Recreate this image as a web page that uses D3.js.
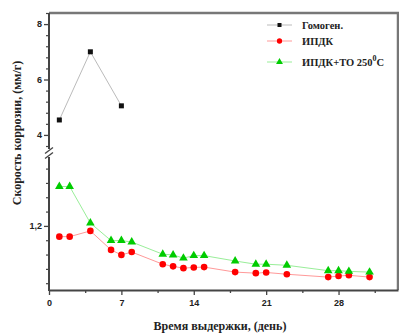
<!DOCTYPE html>
<html>
<head>
<meta charset="utf-8">
<script src="https://cdn.jsdelivr.net/npm/d3@7"></script>
<style>
  body { margin: 0; background: #fff; }
  .tick-label { font-family: "Liberation Sans", Arial, sans-serif; font-weight: bold; font-size: 9px; fill: #222; }
  .title { font-family: "Liberation Serif", "Times New Roman", serif; font-weight: bold; font-size: 12px; fill: #222; }
  .legend { font-family: "Liberation Serif", "Times New Roman", serif; font-weight: bold; font-size: 10.5px; fill: #222; }
</style>
</head>
<body>
<svg width="399" height="333"></svg>
<script>
// data
var homogenDays = [1, 4, 7],
    homogenRate = [4.54, 7.0, 5.05];

var days = [1, 2, 4, 6, 7, 8, 11, 12, 13, 14, 15, 18, 20, 21, 23, 27, 28, 29, 31];
var ipdkRate = [1.170, 1.170, 1.186, 1.133, 1.119, 1.127, 1.093, 1.087, 1.082, 1.084, 1.085,
                1.071, 1.068, 1.070, 1.065, 1.057, 1.060, 1.062, 1.057];
var ipdkToRate = [1.310, 1.310, 1.208, 1.159, 1.159, 1.155, 1.121, 1.119, 1.110, 1.117, 1.117,
                  1.102, 1.093, 1.093, 1.090, 1.075, 1.075, 1.073, 1.071];

var xTicks = [0, 7, 14, 21, 28],
    yTicksTop = [4, 6, 8],
    yTicksBottom = [1.2];

var svg = d3.select("svg"),
    plot = {left: 49, right: 398, top: 13, bottom: 290},
    breakY = 153;

var x = d3.scaleLinear().domain([0, 33.75]).range([plot.left, plot.right]);
var yTop = d3.scaleLinear().domain([3.42, 8.4]).range([151, plot.top]);
var yBot = d3.scaleLinear().domain([1.021, 1.398]).range([plot.bottom, 155]);

// frame (top and right)
svg.append("path")
    .attr("d", "M" + plot.left + "," + plot.top + "H" + plot.right + "V" + plot.bottom)
    .attr("fill", "none")
    .attr("stroke", "#777")
    .attr("stroke-width", 2.5);

// x axis
var xAxis = d3.axisBottom(x).tickValues(xTicks).tickSize(5).tickSizeOuter(0).tickFormat(d3.format("d"));
var gx = svg.append("g").attr("transform", "translate(0," + plot.bottom + ")").call(xAxis);
gx.select(".domain").attr("stroke", "#444").attr("stroke-width", 2);
gx.selectAll(".tick line").attr("stroke", "#444").attr("stroke-width", 1.3);
gx.selectAll(".tick text").attr("class", "tick-label").attr("dy", "0.9em");
svg.append("g").attr("transform", "translate(0," + plot.bottom + ")")
    .call(d3.axisBottom(x).tickValues([3.5, 10.5, 17.5, 24.5, 31.5]).tickSize(3).tickFormat(""))
    .call(function(g) { g.select(".domain").remove(); g.selectAll("line").attr("stroke", "#444").attr("stroke-width", 1.3); });

// y axis ticks
var gyt = svg.append("g").attr("transform", "translate(" + plot.left + ",0)")
    .call(d3.axisLeft(yTop).tickValues(yTicksTop).tickSize(5).tickSizeOuter(0).tickFormat(d3.format("d")));
var gyb = svg.append("g").attr("transform", "translate(" + plot.left + ",0)")
    .call(d3.axisLeft(yBot).tickValues(yTicksBottom).tickSize(5).tickSizeOuter(0).tickFormat(function(d) { return String(d).replace(".", ","); }));
[gyt, gyb].forEach(function(g) {
  g.select(".domain").remove();
  g.selectAll(".tick line").attr("stroke", "#444").attr("stroke-width", 1.3);
  g.selectAll(".tick text").attr("class", "tick-label").attr("x", -7);
});
var minorTop = d3.range(3.6, 8.41, 0.4).filter(function(v) { return Math.abs(v - Math.round(v / 2) * 2) > 0.01; });
var minorBot = d3.range(1.04, 1.37, 0.04).filter(function(v) { return Math.abs(v - 1.2) > 0.001; });
svg.append("g").attr("transform", "translate(" + plot.left + ",0)")
    .call(d3.axisLeft(yTop).tickValues(minorTop).tickSize(3).tickFormat(""))
    .call(function(g) { g.select(".domain").remove(); g.selectAll("line").attr("stroke", "#444").attr("stroke-width", 1.2); });
svg.append("g").attr("transform", "translate(" + plot.left + ",0)")
    .call(d3.axisLeft(yBot).tickValues(minorBot).tickSize(3).tickFormat(""))
    .call(function(g) { g.select(".domain").remove(); g.selectAll("line").attr("stroke", "#444").attr("stroke-width", 1.2); });

// y axis line with break
svg.append("line").attr("x1", plot.left).attr("x2", plot.left).attr("y1", plot.top).attr("y2", breakY - 4)
    .attr("stroke", "#444").attr("stroke-width", 2);
svg.append("line").attr("x1", plot.left).attr("x2", plot.left).attr("y1", breakY + 4).attr("y2", plot.bottom + 1)
    .attr("stroke", "#444").attr("stroke-width", 2);
[-2.5, 2.5].forEach(function(o) {
  svg.append("line")
      .attr("x1", plot.left - 4).attr("y1", breakY + o + 3)
      .attr("x2", plot.left + 4).attr("y2", breakY + o - 3)
      .attr("stroke", "#444").attr("stroke-width", 1.3);
});

// series
function drawSeries(xs, ys, yScale, lineColor, draw) {
  var pts = xs.map(function(d, i) { return [x(d), yScale(ys[i])]; });
  svg.append("path")
      .attr("d", d3.line()(pts))
      .attr("fill", "none")
      .attr("stroke", lineColor)
      .attr("stroke-width", 1);
  pts.forEach(function(p) { draw(svg.append("g").attr("transform", "translate(" + p[0] + "," + p[1] + ")")); });
}
function square(g) { g.append("rect").attr("x", -2.5).attr("y", -2.5).attr("width", 5).attr("height", 5).attr("fill", "#111"); }
function circle(g) { g.append("circle").attr("r", 3.3).attr("fill", "#f00"); }
function triangle(g) { g.append("path").attr("d", d3.symbol(d3.symbolTriangle, 32)()).attr("fill", "#0c0"); }

drawSeries(homogenDays, homogenRate, yTop, "#bbb", square);
drawSeries(days, ipdkRate, yBot, "#f99", circle);
drawSeries(days, ipdkToRate, yBot, "#9e9", triangle);

// legend
var legend = [
  {name: "Гомоген.", color: "#bbb", mark: square, y: 25},
  {name: "ИПДК", color: "#f99", mark: circle, y: 41},
  {name: "ИПДК+ТО 250", color: "#9e9", mark: triangle, y: 62}
];
legend.forEach(function(l) {
  svg.append("line").attr("x1", 267).attr("x2", 292).attr("y1", l.y).attr("y2", l.y)
      .attr("stroke", l.color).attr("stroke-width", 1);
  l.mark(svg.append("g").attr("transform", "translate(279.5," + l.y + ") scale(0.8)"));
  var t = svg.append("text").attr("class", "legend").attr("x", 302).attr("y", l.y + 3.5).text(l.name);
  if (l.mark === triangle) {
    t.append("tspan").attr("dy", -5).attr("font-size", "8px").text("0");
    t.append("tspan").attr("dy", 5).text("C");
  }
});

// titles
svg.append("text").attr("class", "title")
    .attr("x", 220).attr("y", 330).attr("text-anchor", "middle")
    .text("Время выдержки, (день)");
svg.append("text").attr("class", "title")
    .attr("transform", "translate(21,133) rotate(-90)")
    .attr("text-anchor", "middle")
    .text("Скорость коррозии, (мм/г)");
</script>
</body>
</html>
